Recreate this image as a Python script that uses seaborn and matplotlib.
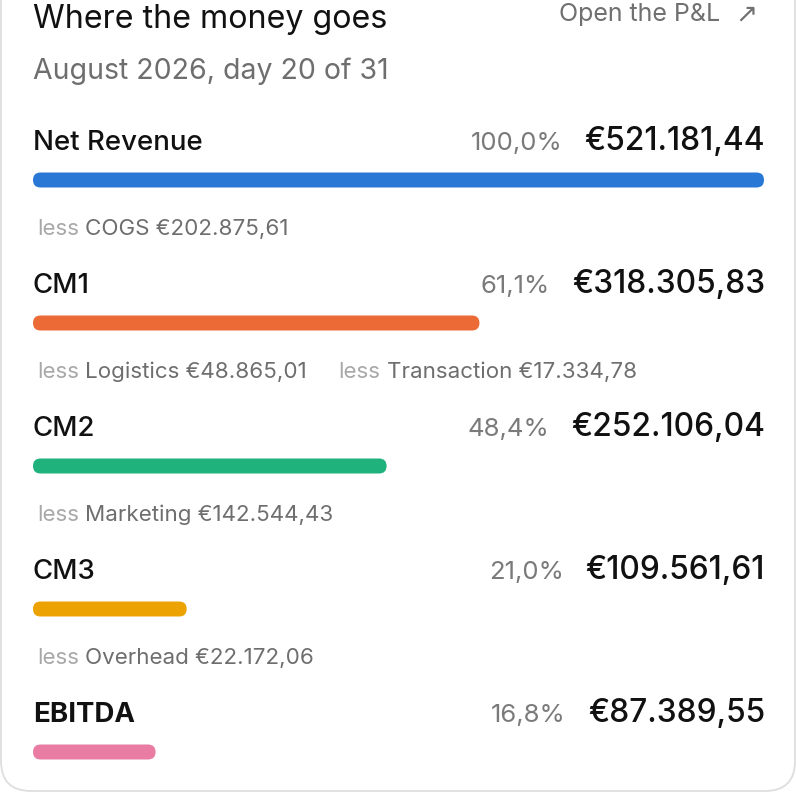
import matplotlib.pyplot as plt
import seaborn as sns
import pandas as pd
from matplotlib.patches import FancyBboxPatch
from matplotlib.transforms import IdentityTransform

stages = ["Net Revenue", "CM1", "CM2", "CM3", "EBITDA"]
amounts = [521181.44, 318305.83, 252106.04, 109561.61, 87389.55]
shares = ["100,0%", "61,1%", "48,4%", "21,0%", "16,8%"]
bar_colors = ["#2A78D5", "#EB6A35", "#1FB27D", "#ECA200", "#E87CA3"]
deduct_names = [["COGS"], ["Logistics", "Transaction"], ["Marketing"], ["Overhead"]]
deduct_amounts = [[202875.61], [48865.01, 17334.78], [142544.43], [22172.06]]

title = "Where the money goes"
subtitle = "August 2026, day 20 of 31"
link_text = "Open the P&L"

W, H = 796, 792
ROW = 143        # px between rows
BAR_Y0 = 180     # centre of first bar
BAR_H = 15


def euro(v):
    s = f"{v:,.2f}"
    s = s.replace(",", "_").replace(".", ",").replace("_", ".")
    return "€" + s


sns.set_theme(style="white")
plt.rcParams['font.family'] = ['Inter', 'DejaVu Sans']

fig = plt.figure(figsize=(W / 100, H / 100), dpi=100)
fig.patch.set_facecolor("white")

# text layer in pixel coordinates
tax = fig.add_axes([0, 0, 1, 1])
tax.set_xlim(0, W)
tax.set_ylim(H, 0)
tax.axis("off")

# bar layer: one category per row
top_px = BAR_Y0 - ROW / 2
bax = fig.add_axes([33 / W, 0, 731 / W, (H - top_px) / H])
df = pd.DataFrame({"stage": stages, "amount": amounts})
sns.barplot(data=df, x="amount", y="stage", hue="stage", palette=bar_colors,
            saturation=1, legend=False, width=BAR_H / ROW, orient="h", ax=bax)
bax.set_xlim(0, amounts[0])
bax.set_ylim(-0.5 + (H - top_px) / ROW, -0.5)
bax.axis("off")

fig.canvas.draw()
renderer = fig.canvas.get_renderer()

# swap square bars for pill shapes at the same place
for p in list(bax.patches):
    bb = p.get_window_extent(renderer)
    pill = FancyBboxPatch((bb.x0, bb.y0), bb.width, bb.height,
                          boxstyle=f"round,pad=0,rounding_size={bb.height / 2}",
                          transform=IdentityTransform(), fc=p.get_facecolor(),
                          ec="none")
    fig.add_artist(pill)
    p.set_visible(False)

# card outline (top runs off the image)
card = FancyBboxPatch((1, 1), W - 2, H + 60, boxstyle="round,pad=0,rounding_size=30",
                      transform=IdentityTransform(), fc="none", ec="#dedede", lw=1.3)
fig.add_artist(card)

# header
tax.text(33, 28, title, fontsize=23.2, color="#111111", va="baseline", ha="left")
tax.text(33, 79, subtitle, fontsize=20.5, color="#6e6e6e", va="baseline", ha="left")
tax.text(720, 21, link_text, fontsize=18, color="#707070", va="baseline", ha="right")
tax.text(757, 22, "↗", fontsize=19, color="#707070", va="baseline", ha="right",
         family=["DejaVu Sans"])

# rows
for i, (name, val, pct) in enumerate(zip(stages, amounts, shares)):
    y = BAR_Y0 - 30 + ROW * i
    tax.text(33, y, name, fontsize=19.9, color="#111111", va="baseline", ha="left",
             weight="bold" if name == "EBITDA" else "medium")
    vt = tax.text(765, y, euro(val), fontsize=22.8, color="#111111", va="baseline",
                  ha="right", weight="medium")
    bb = vt.get_window_extent(renderer)
    tax.text(bb.x0 - 22, y, pct, fontsize=18.5, color="#7a7a7a", va="baseline", ha="right")

# deductions between rows
for i, (names, vals) in enumerate(zip(deduct_names, deduct_amounts)):
    y = BAR_Y0 + 55 + ROW * i
    x = 37
    for name, val in zip(names, vals):
        lt = tax.text(x, y, "less", fontsize=16.1, color="#a8a8a8", va="baseline", ha="left")
        x = lt.get_window_extent(renderer).x1 + 6
        nt = tax.text(x, y, f"{name} {euro(val)}", fontsize=16.1, color="#6e6e6e",
                      va="baseline", ha="left")
        x = nt.get_window_extent(renderer).x1 + 32

fig.savefig("out.png", dpi=100, facecolor="white")
